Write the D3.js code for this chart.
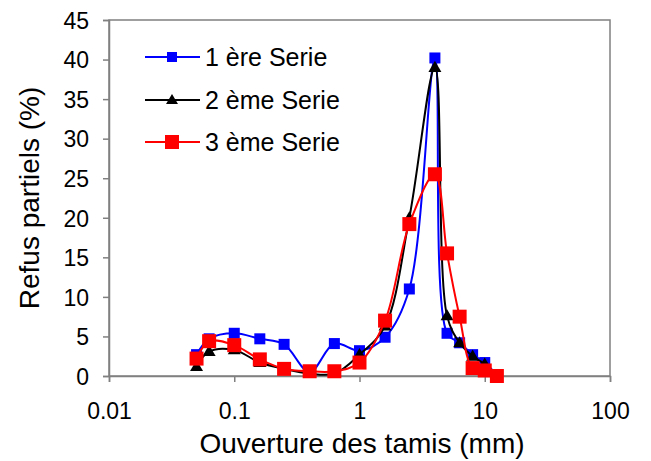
<!DOCTYPE html>
<html><head><meta charset="utf-8">
<script src="https://cdn.jsdelivr.net/npm/d3@7"></script>
<style>body{margin:0;background:#fff}svg{display:block}text{font-family:"Liberation Sans",Arial,sans-serif}</style>
</head><body><svg id="c" width="651" height="461"></svg>
<script>
const sieves = [0.05, 0.063, 0.1, 0.16, 0.25, 0.4, 0.63, 1, 1.6, 2.5, 4, 5, 6.3, 8, 10, 12.5];
const serie1 = [2.7, 4.7, 5.4, 4.7, 4.0, 0.5, 4.1, 3.2, 4.9, 11.0, 40.2, 5.4, 4.2, 2.7, 1.7, 0.1];
const serie2 = [1.2, 3.1, 3.3, 1.7, 0.9, 0.3, 0.3, 2.7, 6.3, 20.0, 39.0, 7.6, 4.2, 2.5, 1.5, 0.0];
const serie3 = [2.2, 4.4, 3.9, 2.1, 0.9, 0.6, 0.6, 1.7, 7.0, 19.2, 25.5, 15.5, 7.5, 1.0, 0.7, 0.0];
const seriesNames = ["1 ère Serie", "2 ème Serie", "3 ème Serie"];
const xTicks = [0.01, 0.1, 1, 10, 100];
const xTickLabels = ["0.01", "0.1", "1", "10", "100"];
const yTicks = [0, 5, 10, 15, 20, 25, 30, 35, 40, 45];
const xTitle = "Ouverture des tamis (mm)";
const yTitle = "Refus partiels (%)";

const svg = d3.select("#c");
const L = 109, R = 610, T = 20, B = 376;
const x = d3.scaleLog().domain([0.01, 100]).range([L, R]);
const y = d3.scaleLinear().domain([0, 45]).range([B, T]);
const axisColor = "#808080";

svg.append("rect").attr("x", L).attr("y", T).attr("width", R - L).attr("height", B - T)
  .attr("fill", "none").attr("stroke", axisColor).attr("stroke-width", 1.5);

const xAxis = svg.append("g").attr("transform", `translate(0,${B})`)
  .call(d3.axisBottom(x).tickValues(xTicks).tickFormat((d, i) => xTickLabels[i]).tickSize(6).tickPadding(21));
const yAxis = svg.append("g").attr("transform", `translate(${L},0)`)
  .call(d3.axisLeft(y).tickValues(yTicks).tickSize(6).tickPadding(14));
[xAxis, yAxis].forEach(a => {
  a.select(".domain").attr("stroke", axisColor).attr("stroke-width", 1.5);
  a.selectAll(".tick line").attr("stroke", axisColor).attr("stroke-width", 1.5);
  a.selectAll(".tick text").attr("fill", "#000").style("font-size", "23px").style("font-family", '"Liberation Sans",Arial,sans-serif');
});
xAxis.selectAll(".tick text").attr("dy", "0.71em");
yAxis.selectAll(".tick text").attr("dy", "0.36em");

svg.append("text").attr("x", 362).attr("y", 453).attr("text-anchor", "middle")
  .style("font-size", "28px").text(xTitle);
svg.append("text").attr("transform", "translate(39,198) rotate(-90)").attr("text-anchor", "middle")
  .style("font-size", "28px").text(yTitle);

const line = d3.line().x(d => x(d[0])).y(d => y(d[1])).curve(d3.curveCatmullRom.alpha(0.5));
const colors = ["#0000FF", "#000000", "#FF0000"];
const data = [serie1, serie2, serie3];
const markerSize = [11, 13, 14];

function marker(g, type, cx, cy, s, color) {
  if (type === "tri") {
    const h = s * 0.85;
    g.append("path").attr("d", `M${cx},${cy - h * 0.6}L${cx + s / 2},${cy + h * 0.4}L${cx - s / 2},${cy + h * 0.4}Z`).attr("fill", color);
  } else {
    g.append("rect").attr("x", cx - s / 2).attr("y", cy - s / 2).attr("width", s).attr("height", s).attr("fill", color);
  }
}
const types = ["sq", "tri", "sq"];

data.forEach((vals, i) => {
  const pts = sieves.map((s, j) => [s, vals[j]]);
  const g = svg.append("g");
  g.append("path").attr("d", line(pts)).attr("fill", "none").attr("stroke", colors[i]).attr("stroke-width", 2);
  pts.forEach(p => marker(g, types[i], x(p[0]), y(p[1]), markerSize[i], colors[i]));
});

const legY = [57, 100, 142];
const legMarker = [10, 12, 14];
seriesNames.forEach((n, i) => {
  const g = svg.append("g");
  g.append("line").attr("x1", 145).attr("x2", 200).attr("y1", legY[i]).attr("y2", legY[i]).attr("stroke", colors[i]).attr("stroke-width", 2);
  marker(g, types[i], 172, legY[i], legMarker[i], colors[i]);
  g.append("text").attr("x", 205).attr("y", legY[i] + 9).style("font-size", "25px").text(n);
});
</script></body></html>
